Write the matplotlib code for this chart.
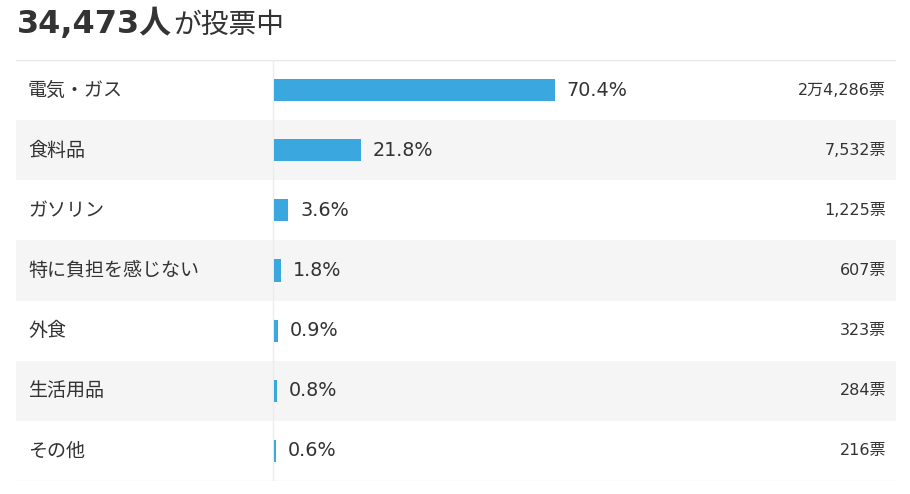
import matplotlib
matplotlib.use('Agg')
import matplotlib.pyplot as plt

plt.rcParams['font.family'] = ['Noto Sans CJK JP', 'DejaVu Sans']
LATIN_FIRST = ['DejaVu Sans', 'Noto Sans CJK JP']

# poll results
total_voters = '34,473'
categories = ['電気・ガス', '食料品', 'ガソリン', '特に負担を感じない', '外食', '生活用品', 'その他']
percents = [70.4, 21.8, 3.6, 1.8, 0.9, 0.8, 0.6]
votes = ['2万4,286票', '7,532票', '1,225票', '607票', '323票', '284票', '216票']

text_color = '#333333'
bar_color = '#3aa8de'

W, H = 910, 494
fig = plt.figure(figsize=(W / 100, H / 100), dpi=100)

# table area in pixels: x 16..896, y 60..481 (from top)
left, right, top, bottom = 16, 896, 60, 481
ax = fig.add_axes([left / W, (H - bottom) / H, (right - left) / W, (bottom - top) / H])

px_per_pct = 3.99
bar_x0 = 274
ax.set_xlim(-(bar_x0 - left) / px_per_pct, (right - bar_x0) / px_per_pct)
n = len(categories)
ax.set_ylim(n - 0.5, -0.5)
ax.axis('off')

# row stripes
for i in range(n):
    if i % 2 == 1:
        ax.axhspan(i - 0.5, i + 0.5, color='#f5f5f5', lw=0, zorder=0)

# border lines
ax.axhline(-0.5, color='#e6e6e6', lw=1, zorder=1)
ax.axhline(n - 0.5, color='#e6e6e6', lw=1, zorder=1)
ax.axvline(-0.25, color='#ececec', lw=1, zorder=1)

ys = list(range(n))
ax.barh(ys, percents, height=22 / 60, color=bar_color, zorder=2)

ytrans = ax.get_yaxis_transform()
for i in range(n):
    ax.text((28 - left) / (right - left), i, categories[i], transform=ytrans,
            ha='left', va='center', fontsize=13.7, color=text_color)
    ax.annotate('%.1f%%' % percents[i], xy=(percents[i], i), xytext=(8.5, 0),
                textcoords='offset points', ha='left', va='center',
                fontsize=13.8, color=text_color, family=LATIN_FIRST)
    ax.text((886 - left) / (right - left), i, votes[i], transform=ytrans,
            ha='right', va='center', fontsize=11.5, color=text_color,
            family=LATIN_FIRST)

# title
base_y = (H - 33) / H
t1 = fig.text(17 / W, base_y, total_voters + '人', ha='left', va='baseline',
              fontsize=23, fontweight='bold', color=text_color, family=LATIN_FIRST)
fig.canvas.draw()
bb = t1.get_window_extent()
fig.text(bb.x1 / W + 1 / W, base_y, 'が投票中', ha='left', va='baseline',
         fontsize=20, color=text_color)

fig.savefig('out.png', dpi=100)
